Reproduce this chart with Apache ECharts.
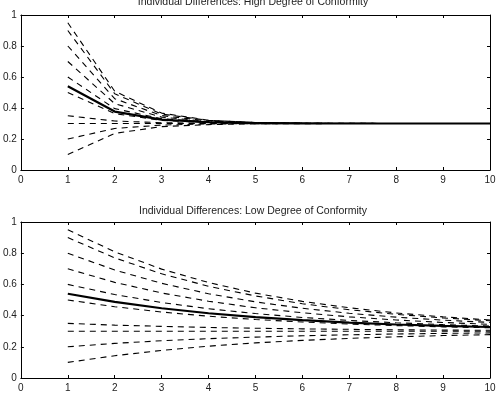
<!DOCTYPE html>
<html>
<head>
<meta charset="utf-8">
<script src="https://cdn.jsdelivr.net/npm/echarts@6/dist/echarts.min.js"></script>
<style>html,body{margin:0;padding:0;background:#fff}#c{width:500px;height:399px}</style>
</head>
<body>
<div id="c"></div>
<script>
const steps = [1, 2, 3, 4, 5, 6, 7, 8, 9, 10];
const xTicks = [0, 1, 2, 3, 4, 5, 6, 7, 8, 9, 10];
const yTicks = [0, 0.2, 0.4, 0.6, 0.8, 1];
const titleHigh = 'Individual Differences: High Degree of Conformity';
const titleLow = 'Individual Differences: Low Degree of Conformity';

// High degree of conformity: individuals
const high = [
  [0.95, 0.508, 0.367, 0.321, 0.307, 0.302, 0.301, 0.300, 0.300, 0.300],
  [0.90, 0.492, 0.361, 0.320, 0.306, 0.302, 0.301, 0.300, 0.300, 0.300],
  [0.80, 0.460, 0.351, 0.316, 0.305, 0.302, 0.301, 0.300, 0.300, 0.300],
  [0.70, 0.428, 0.341, 0.313, 0.304, 0.301, 0.300, 0.300, 0.300, 0.300],
  [0.60, 0.396, 0.331, 0.310, 0.303, 0.301, 0.300, 0.300, 0.300, 0.300],
  [0.50, 0.364, 0.320, 0.307, 0.302, 0.301, 0.300, 0.300, 0.300, 0.300],
  [0.35, 0.316, 0.305, 0.302, 0.301, 0.300, 0.300, 0.300, 0.300, 0.300],
  [0.30, 0.300, 0.300, 0.300, 0.300, 0.300, 0.300, 0.300, 0.300, 0.300],
  [0.20, 0.268, 0.290, 0.297, 0.299, 0.300, 0.300, 0.300, 0.300, 0.300],
  [0.10, 0.236, 0.280, 0.293, 0.298, 0.299, 0.300, 0.300, 0.300, 0.300]
];
const highMean = [0.54, 0.377, 0.325, 0.308, 0.303, 0.301, 0.300, 0.300, 0.300, 0.300];

// Low degree of conformity: individuals
const low = [
  [0.95, 0.809, 0.698, 0.612, 0.544, 0.491, 0.450, 0.417, 0.392, 0.372],
  [0.90, 0.770, 0.668, 0.588, 0.526, 0.476, 0.438, 0.408, 0.385, 0.367],
  [0.80, 0.692, 0.607, 0.540, 0.488, 0.447, 0.415, 0.390, 0.371, 0.356],
  [0.70, 0.613, 0.545, 0.492, 0.450, 0.418, 0.392, 0.372, 0.356, 0.344],
  [0.60, 0.535, 0.484, 0.444, 0.413, 0.388, 0.369, 0.354, 0.342, 0.333],
  [0.50, 0.457, 0.423, 0.396, 0.375, 0.359, 0.346, 0.336, 0.328, 0.322],
  [0.35, 0.339, 0.331, 0.324, 0.319, 0.315, 0.312, 0.309, 0.307, 0.306],
  [0.30, 0.300, 0.300, 0.300, 0.300, 0.300, 0.300, 0.300, 0.300, 0.300],
  [0.20, 0.222, 0.239, 0.252, 0.262, 0.271, 0.277, 0.282, 0.286, 0.289],
  [0.10, 0.143, 0.177, 0.204, 0.225, 0.241, 0.254, 0.264, 0.272, 0.278]
];
const lowMean = [0.54, 0.488, 0.447, 0.415, 0.390, 0.371, 0.355, 0.343, 0.334, 0.327];

const FONT = 'Liberation Sans';
const grids = [
  { left: 17, top: 15, width: 473, height: 155 },
  { left: 17, top: 222, width: 473, height: 156 }
];

function xAx(gi, pos, labels) {
  return {
    type: 'value', gridIndex: gi, position: pos,
    min: xTicks[0], max: xTicks[xTicks.length - 1], interval: 1,
    axisLine: { show: true, onZero: false, lineStyle: { color: '#000', width: 1 } },
    axisTick: { show: true, inside: true, length: 3, lineStyle: { color: '#000' } },
    axisLabel: { show: labels, margin: 5, color: '#222', fontFamily: FONT, fontSize: 10 },
    splitLine: { show: false }
  };
}
function yAx(gi, pos, labels) {
  return {
    type: 'value', gridIndex: gi, position: pos,
    min: yTicks[0], max: yTicks[yTicks.length - 1], interval: 0.2,
    axisLine: { show: true, onZero: false, lineStyle: { color: '#000', width: 1 } },
    axisTick: { show: true, inside: true, length: 3, lineStyle: { color: '#000' } },
    axisLabel: { show: labels, margin: 4, color: '#222', fontFamily: FONT, fontSize: 10,
      formatter: v => String(Math.round(v * 10) / 10) },
    splitLine: { show: false }
  };
}

const series = [];
function addPanel(data, mean, xi, yi) {
  data.forEach(row => {
    series.push({
      type: 'line', xAxisIndex: xi, yAxisIndex: yi, symbol: 'none', silent: true,
      data: steps.map((s, i) => [s, row[i]]),
      lineStyle: { color: '#000', width: 1.1, type: [6, 5] }
    });
  });
  series.push({
    type: 'line', xAxisIndex: xi, yAxisIndex: yi, symbol: 'none', silent: true, z: 5,
    data: steps.map((s, i) => [s, mean[i]]),
    lineStyle: { color: '#000', width: 2.2 }
  });
}
addPanel(high, highMean, 0, 0);
addPanel(low, lowMean, 2, 2);

const chart = echarts.init(document.getElementById('c'), null, { renderer: 'canvas' });
chart.setOption({
  animation: false,
  backgroundColor: '#fff',
  title: [
    { text: titleHigh, left: 253, textAlign: 'center', top: -4, padding: 0,
      textStyle: { fontFamily: FONT, fontSize: 10.5, fontWeight: 'normal', color: '#222', lineHeight: 12 } },
    { text: titleLow, left: 253, textAlign: 'center', top: 205, padding: 0,
      textStyle: { fontFamily: FONT, fontSize: 10.5, fontWeight: 'normal', color: '#222', lineHeight: 12 } }
  ],
  grid: grids,
  xAxis: [xAx(0, 'bottom', true), xAx(0, 'top', false), xAx(1, 'bottom', true), xAx(1, 'top', false)],
  yAxis: [yAx(0, 'left', true), yAx(0, 'right', false), yAx(1, 'left', true), yAx(1, 'right', false)],
  series: series
});
</script>
</body>
</html>
